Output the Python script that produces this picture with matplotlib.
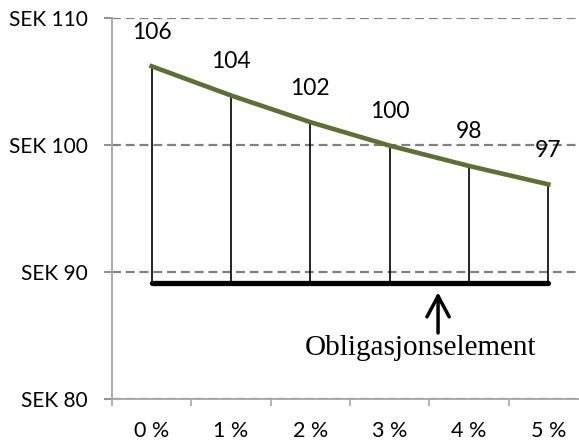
import matplotlib
matplotlib.use("Agg")
import matplotlib.pyplot as plt

# rente / verdi
rates = ["0 %", "1 %", "2 %", "3 %", "4 %", "5 %"]
values = [106.2, 103.9, 101.8, 99.95, 98.35, 96.9]
value_labels = ["106", "104", "102", "100", "98", "97"]
bond_floor = 89.1
y_ticks = [80, 90, 100, 110]
y_ticklabels = ["SEK 80", "SEK 90", "SEK 100", "SEK 110"]
note = "Obligasjonselement"

sans = ["Lato", "DejaVu Sans"]
axis_grey = "#a6a6a6"
grid_grey = "#808080"
green = "#5b7131"

fig = plt.figure(figsize=(5.79, 4.41), dpi=100)
ax = fig.add_axes([112/579, 1-399/441, 476/579, 381/441])
x = list(range(len(rates)))

# stolper fra obligasjonsgulv opp til kurven
ax.vlines(x, bond_floor, values, color="black", lw=1.2, zorder=3)
ax.plot([x[0], x[-1]], [bond_floor, bond_floor], color="black", lw=3.8,
        solid_capstyle="round", zorder=4)
ax.plot(x, values, color=green, lw=3.3, zorder=5)

for xi, v, lab in zip(x, values, value_labels):
    ax.annotate(lab, (xi, v), xytext=(0, 24.5), textcoords="offset points",
                ha="center", va="center", fontsize=16.5, family=sans)

# pil og tekst
ax.annotate("", xy=(3.61, 88.4), xytext=(3.61, 85.2),
            arrowprops=dict(arrowstyle="->,head_length=1.5,head_width=0.8",
                            lw=2.5, color="black", mutation_scale=10,
                            shrinkA=0, shrinkB=0), zorder=6)
ax.text(3.39, 84.0, note, ha="center", va="center", fontsize=21,
        family="Liberation Serif")

ax.set_xlim(-0.5, 5.5)
ax.set_ylim(80, 110)
ax.set_yticks(y_ticks)
ax.set_yticklabels(y_ticklabels, family=sans, fontsize=15)
ax.set_xticks([i - 0.5 for i in range(len(rates) + 1)])
ax.set_xticklabels([])
ax.set_xticks(x, minor=True)
ax.set_xticklabels(rates, minor=True, family=sans, fontsize=15.5)
ax.tick_params(axis="x", which="minor", length=0, pad=16)
ax.tick_params(axis="x", which="major", length=5, width=1.2, color=axis_grey)
ax.tick_params(axis="y", length=6, width=1.2, color=grid_grey, pad=11.5)

ax.yaxis.grid(True, color=grid_grey, lw=1.6, linestyle=(0, (4, 2.2)))
ax.set_axisbelow(True)
for s in ["top", "right"]:
    ax.spines[s].set_visible(False)
for s in ["left", "bottom"]:
    ax.spines[s].set_color(axis_grey)
    ax.spines[s].set_linewidth(1.3)

fig.savefig("out.png", dpi=100)
